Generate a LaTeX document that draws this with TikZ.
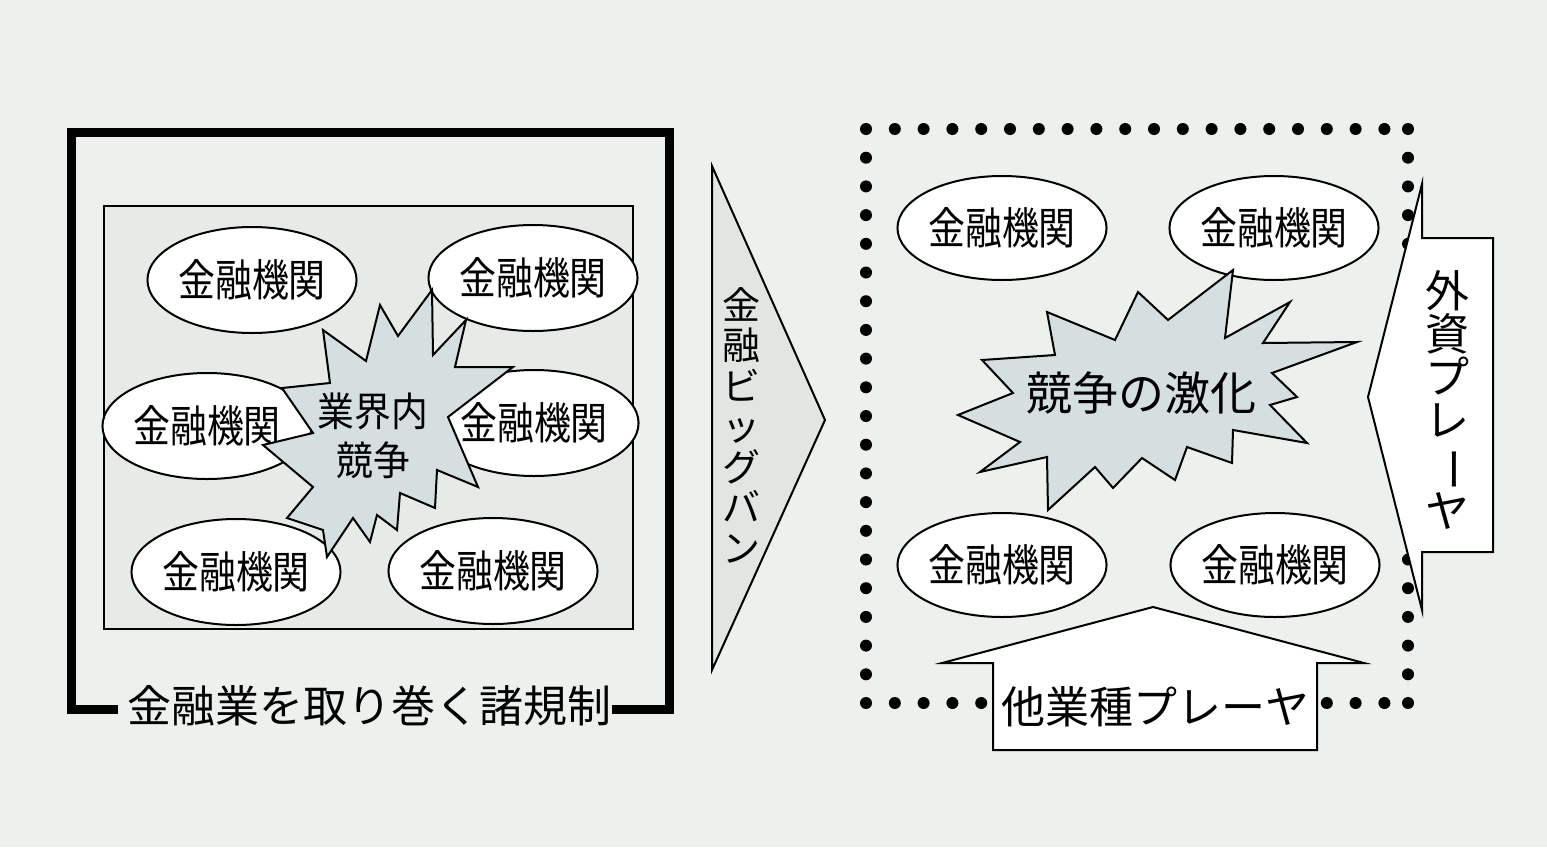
\documentclass[tikz,border=0pt]{standalone}
\usepackage{fontspec}
\setmainfont{Noto Sans CJK JP}
\newfontfamily\jpn{Noto Sans CJK JP}
\newfontfamily\jpnc[FakeStretch=0.84]{Noto Sans CJK JP}
\newfontfamily\jpns[FakeStretch=0.92]{Noto Sans CJK JP}
\usetikzlibrary{shapes.geometric}
\definecolor{bgc}{RGB}{236,241,237}
\definecolor{innerc}{RGB}{231,235,232}
\definecolor{starc}{RGB}{213,223,223}
\definecolor{bbc}{RGB}{226,230,227}
\tikzset{
  inst/.style={ellipse, draw, line width=2pt, fill=white, minimum width=202pt,
    minimum height=106pt, inner sep=0pt, font=\jpnc\fontsize{44}{44}\selectfont},
  burst/.style={draw, line width=2pt, fill=starc, line join=miter},
  blockarrow/.style={draw, line width=2pt, fill=white, line join=miter},
  dotmark/.style={fill=black},
  txt/.style={inner sep=0pt, align=center}
}
\begin{document}
\begin{tikzpicture}[x=1pt,y=-1pt]
\fill[bgc] (0,0) rectangle (1547,847);
\useasboundingbox (0,0) rectangle (1547,847);

% ---------------- left panel ----------------
\draw[line width=9pt, line join=miter] (118,709) -- (71,709) -- (71,132) -- (669,132) -- (669,709) -- (612,709);
\node[txt, font=\jpn\fontsize{44}{44}\selectfont] (reglabel) at (369,706) {金融業を取り巻く諸規制};
\draw[line width=2pt, fill=innerc] (104,206) rectangle (633,629);

\node[inst] (l1) at (252,280) {金融機関};
\node[inst] (l2) at (533,278) {金融機関};
\node[inst] (l3) at (207,426) {金融機関};
\node[inst] (l4) at (534,423) {金融機関};
\node[inst] (l5) at (236,572) {金融機関};
\node[inst] (l6) at (493,571) {金融機関};

\draw[burst] (263,445) -- (313,433) -- (282,388) -- (330,383) -- (323,330) -- (366,361)
  -- (380,305) -- (398,336) -- (432,290) -- (433,355) -- (466,320) -- (455,367)
  -- (513,367) -- (448,417) -- (478,487) -- (437,470) -- (435,508) -- (400,493)
  -- (397,530) -- (377,515) -- (370,542) -- (353,518) -- (327,557) -- (323,530)
  -- (287,518) -- (313,487) -- cycle;
\node[txt, font=\jpns\fontsize{40}{49}\selectfont] (lcomp) at (373,436) {業界内\\競争};

% ---------------- big bang arrow ----------------
\draw[line width=2pt, fill=bbc, line join=miter] (712,166) -- (825,420) -- (712,670) -- cycle;
\node[txt, font=\jpn\fontsize{38}{40.5}\selectfont] (bigbang) at (741,425) {金\\融\\ビ\\ッ\\グ\\バ\\ン};

% ---------------- right panel ----------------
\foreach \i in {0,...,18} {
  \fill[dotmark] (866+28.8*\i,129) circle (6);
  \fill[dotmark] (866+28.8*\i,703) circle (6);
}
\fill[dotmark] (1408,129) circle (6);
\fill[dotmark] (1408,703) circle (6);
\foreach \j in {1,...,19} {
  \fill[dotmark] (866,129+28.7*\j) circle (6);
  \fill[dotmark] (1408,129+28.7*\j) circle (6);
}

\node[inst, minimum height=104pt] (r1) at (1002,228) {金融機関};
\node[inst, minimum height=104pt] (r2) at (1274,228) {金融機関};
\node[inst, minimum height=104pt] (r3) at (1002,565) {金融機関};
\node[inst, minimum height=104pt] (r4) at (1275,565) {金融機関};

\draw[burst] (1233,270) -- (1225,338) -- (1290,302) -- (1263,343) -- (1357,342)
  -- (1272,373) -- (1297,397) -- (1270,405) -- (1307,443) -- (1233,430)
  -- (1232,463) -- (1187,447) -- (1175,480) -- (1142,458) -- (1113,488)
  -- (1095,467) -- (1048,510) -- (1047,457) -- (980,472) -- (1020,442)
  -- (958,415) -- (1013,393) -- (982,360) -- (1055,355) -- (1047,312)
  -- (1115,340) -- (1138,292) -- (1168,320) -- cycle;
\node[txt, font=\jpn\fontsize{46}{46}\selectfont] (rcomp) at (1141,393) {競争の激化};

\draw[blockarrow] (1368,397) -- (1422,610) -- (1422,552) -- (1493,552) -- (1493,238)
  -- (1422,238) -- (1422,184) -- cycle;
\node[txt, font=\jpn\fontsize{44}{43}\selectfont] (foreign) at (1447,400)
  {外\\資\\プ\\レ\\\rotatebox[origin=c]{-90}{ー}\\ヤ};

\draw[blockarrow] (1153,607) -- (1364,663) -- (1317,663) -- (1317,750) -- (993,750)
  -- (993,663) -- (942,663) -- cycle;
\node[txt, font=\jpn\fontsize{44}{44}\selectfont] (other) at (1155,707) {他業種プレーヤ};
\end{tikzpicture}
\end{document}
